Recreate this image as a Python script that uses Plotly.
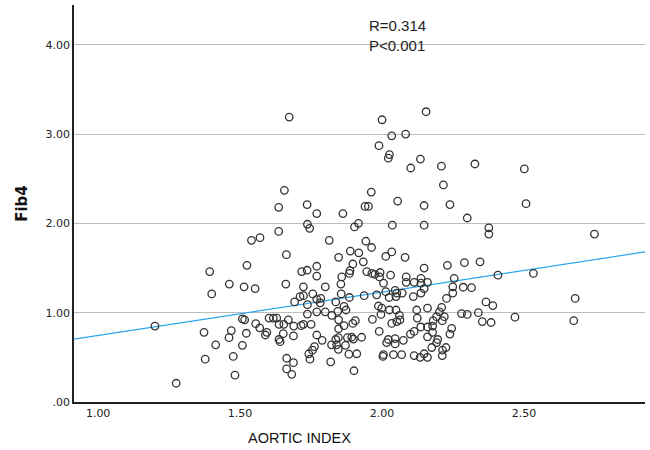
import plotly.graph_objects as go

# AORTIC INDEX (x) and Fib4 (y) values
aortic_index = [
    2.155, 2.000, 1.673, 2.083, 2.034, 1.989, 2.026, 2.022, 2.135, 2.101,
    2.209, 2.327, 2.501, 2.216, 1.962, 2.055, 1.940, 1.952, 2.148, 2.239,
    2.507, 1.862, 2.300, 1.903, 1.917, 2.036, 2.148, 2.376, 2.376, 2.748,
    1.656, 1.636, 1.736, 1.770, 1.737, 1.745, 1.636, 1.540, 1.570, 1.814,
    1.663, 1.847, 1.888, 1.918, 1.393, 1.524, 1.717, 1.736, 1.770, 1.770,
    1.897, 1.887, 1.885, 1.858, 1.855, 1.462, 1.514, 1.553, 1.661, 1.723,
    1.800, 1.400, 1.692, 1.711, 1.723, 1.737, 1.756, 1.770, 1.782, 1.784,
    1.770, 1.800, 1.823, 1.837, 1.856, 1.885, 1.866, 1.873, 1.844, 1.200,
    1.275, 1.373, 1.377, 1.414, 1.461, 1.469, 1.476, 1.482, 1.508, 1.508,
    1.516, 1.522, 1.555, 1.569, 1.589, 1.594, 1.602, 1.617, 1.629, 1.637,
    1.654, 1.670, 1.652, 1.637, 1.641, 1.688, 1.689, 1.715, 1.723, 1.737,
    1.750, 1.770, 1.789, 1.762, 1.755, 1.742, 1.746, 1.664, 1.688, 1.664,
    1.682, 1.819, 1.822, 1.840, 1.846, 1.837, 1.846, 1.871, 1.878, 1.893,
    1.899, 1.883, 1.901, 1.847, 1.847, 1.866, 1.897, 1.906, 1.911, 1.928,
    1.934, 1.946, 1.964, 1.975, 1.993, 1.991, 2.005, 2.030, 2.013, 2.034,
    2.081, 2.085, 2.085, 2.113, 2.137, 2.137, 2.148, 2.160, 1.937, 1.981,
    2.013, 2.046, 2.052, 2.071, 2.025, 2.049, 1.987, 1.999, 1.996, 2.026,
    2.049, 2.061, 1.966, 2.034, 2.052, 2.063, 1.990, 2.016, 2.022, 2.046,
    2.046, 2.075, 2.005, 2.003, 2.040, 2.069, 2.110, 2.137, 2.148, 2.122,
    2.124, 2.160, 2.136, 2.160, 2.178, 2.180, 2.192, 2.202, 2.210, 2.219,
    2.212, 2.100, 2.113, 2.160, 2.178, 2.196, 2.192, 2.175, 2.213, 2.225,
    2.212, 2.245, 2.239, 2.113, 2.134, 2.148, 2.160, 2.230, 2.290, 2.345,
    2.254, 2.249, 2.249, 2.227, 2.286, 2.315, 2.366, 2.390, 2.280, 2.300,
    2.339, 2.353, 2.384, 2.468, 2.408, 2.533, 2.680, 2.675, 1.943, 1.963,
]
fib4 = [
    3.25, 3.16, 3.19, 3.00, 2.98, 2.87, 2.77, 2.73, 2.72, 2.62,
    2.64, 2.665, 2.61, 2.43, 2.35, 2.25, 2.19, 2.19, 2.20, 2.21,
    2.22, 2.11, 2.06, 1.96, 2.00, 1.98, 1.98, 1.95, 1.88, 1.88,
    2.37, 2.18, 2.21, 2.11, 1.99, 1.945, 1.91, 1.81, 1.84, 1.81,
    1.65, 1.62, 1.69, 1.67, 1.46, 1.53, 1.46, 1.475, 1.52, 1.41,
    1.545, 1.47, 1.44, 1.40, 1.32, 1.32, 1.29, 1.27, 1.32, 1.29,
    1.29, 1.21, 1.12, 1.18, 1.19, 1.09, 1.21, 1.15, 1.11, 1.16,
    1.01, 1.01, 0.97, 1.12, 1.21, 1.17, 1.07, 1.03, 1.015, 0.85,
    0.21, 0.78, 0.48, 0.64, 0.72, 0.80, 0.51, 0.30, 0.635, 0.93,
    0.92, 0.77, 0.877, 0.83, 0.75, 0.78, 0.94, 0.94, 0.94, 0.87,
    0.87, 0.92, 0.765, 0.70, 0.675, 0.74, 0.85, 0.855, 0.87, 0.985,
    0.87, 0.75, 0.69, 0.62, 0.58, 0.54, 0.48, 0.49, 0.44, 0.37,
    0.31, 0.45, 0.64, 0.64, 0.59, 0.70, 0.72, 0.635, 0.72, 0.725,
    0.705, 0.535, 0.35, 0.92, 0.82, 0.855, 0.88, 0.91, 0.54, 0.725,
    1.57, 1.46, 1.44, 1.43, 1.45, 1.40, 1.33, 1.42, 1.63, 1.68,
    1.62, 1.40, 1.34, 1.34, 1.33, 1.385, 1.50, 1.34, 1.19, 1.20,
    1.235, 1.25, 1.22, 1.22, 1.17, 1.18, 1.075, 1.05, 0.98, 1.03,
    1.03, 0.97, 0.925, 0.88, 0.90, 0.92, 0.79, 0.665, 0.70, 0.65,
    0.71, 0.69, 0.53, 0.51, 0.53, 0.53, 1.18, 1.22, 1.27, 1.03,
    0.94, 1.05, 0.84, 0.84, 0.85, 0.91, 0.955, 1.01, 1.06, 0.955,
    0.91, 0.76, 0.79, 0.73, 0.78, 0.70, 0.665, 0.61, 0.58, 0.61,
    0.52, 0.825, 0.76, 0.52, 0.50, 0.54, 0.50, 1.53, 1.56, 1.57,
    1.385, 1.29, 1.22, 1.16, 1.285, 1.28, 1.12, 1.08, 0.99, 0.98,
    1.00, 0.90, 0.89, 0.95, 1.42, 1.44, 1.16, 0.91, 1.80, 1.73,
]

# Linear fit line (as shown in the reference)
fit_intercept = 0.261
fit_slope = 0.485

x_range = [0.915, 2.926]
y_range = [0.0, 4.445]

x_tickvals = [1.0, 1.5, 2.0, 2.5]
x_ticktext = ["1.00", "1.50", "2.00", "2.50"]
y_tickvals = [0.0, 1.0, 2.0, 3.0, 4.0]
y_ticktext = [".00", "1.00", "2.00", "3.00", "4.00"]

x_title = "AORTIC INDEX"
y_title = "<b>Fib4</b>"
stats_text = "R=0.314<br>P&lt;0.001"

fig = go.Figure()

fit_x = x_range
fit_y = [fit_intercept + fit_slope * v for v in fit_x]
fig.add_trace(go.Scatter(
    x=fit_x, y=fit_y, mode="lines",
    line=dict(color="#2aa6f0", width=1.2),
    hoverinfo="skip", showlegend=False,
))

fig.add_trace(go.Scatter(
    x=aortic_index, y=fib4, mode="markers",
    marker=dict(symbol="circle-open", size=7.5, color="#333333",
                line=dict(width=1.3, color="#333333")),
    showlegend=False,
))

fig.add_annotation(
    x=1.947, y=4.10, xref="x", yref="y", text=stats_text,
    showarrow=False, xanchor="left", yanchor="middle", align="left",
    font=dict(family="Liberation Sans, Arial, sans-serif", size=15, color="#222222"),
)

# x-axis title (sits left of the plot centre in the reference)
fig.add_annotation(
    x=0.395, y=-0.09, xref="paper", yref="paper", text=x_title,
    showarrow=False, xanchor="center", yanchor="middle",
    font=dict(family="Liberation Sans, Arial, sans-serif", size=14.5, color="#111111"),
)

fig.update_layout(
    width=650, height=450,
    margin=dict(l=74, r=5, t=5, b=48),
    paper_bgcolor="white", plot_bgcolor="white",
    font=dict(family="DejaVu Sans, sans-serif", size=11, color="#222222"),
)

fig.update_xaxes(
    range=x_range, tickvals=x_tickvals, ticktext=x_ticktext,
    showgrid=False, zeroline=False, showline=True, linecolor="#222222", linewidth=1.5,
    ticks="", tickfont=dict(family="DejaVu Sans, sans-serif", size=11, color="#222222"),
)
fig.update_yaxes(
    range=y_range, tickvals=y_tickvals, ticktext=y_ticktext,
    showgrid=True, gridcolor="#bdbdbd", gridwidth=1,
    zeroline=False, showline=True, linecolor="#222222", linewidth=1.5,
    ticks="", tickfont=dict(family="DejaVu Sans, sans-serif", size=11, color="#222222"),
    title=dict(text=y_title, standoff=14,
               font=dict(family="DejaVu Sans, sans-serif", size=15, color="#111111")),
)

fig.write_html(
    "out.html",
    config={"displayModeBar": False},
    post_script="document.body.style.margin='0px';document.body.style.overflow='hidden';",
)
